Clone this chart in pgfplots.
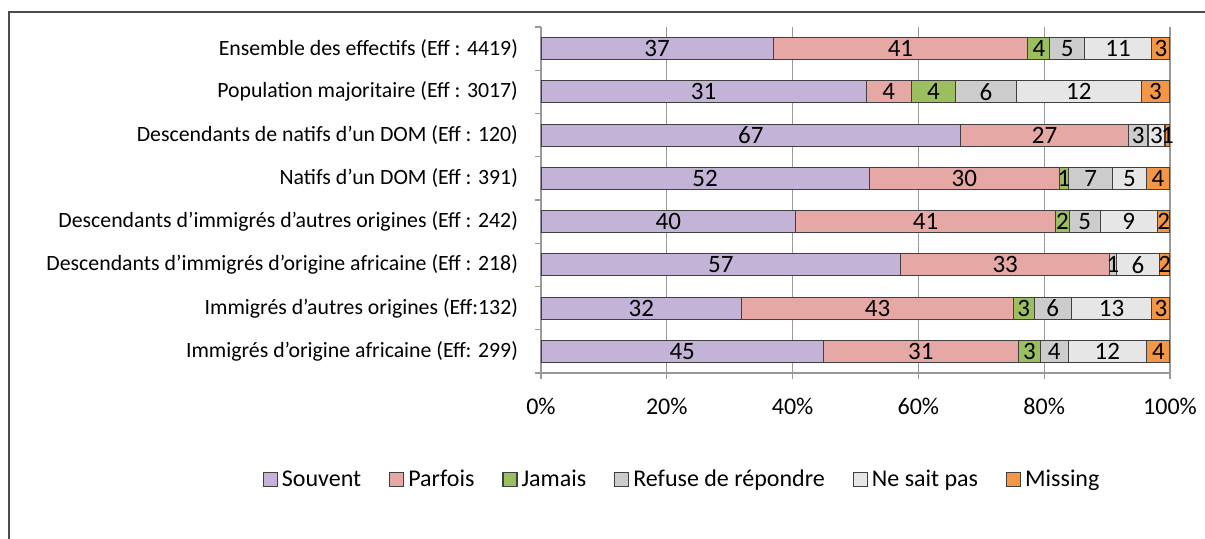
\documentclass[border=0pt]{standalone}
\usepackage{fontspec}
\setmainfont{Carlito}
\usepackage{pgfplots}
\pgfplotsset{compat=1.18}
\definecolor{souvent}{RGB}{195,180,215}
\definecolor{parfois}{RGB}{230,168,165}
\definecolor{jamais}{RGB}{155,190,95}
\definecolor{refuse}{RGB}{204,204,204}
\definecolor{nsp}{RGB}{230,230,230}
\definecolor{missing}{RGB}{243,150,70}
\begin{document}
\begin{tikzpicture}
\begin{axis}[
  at={(0pt,0pt)}, anchor=south west,
  scale only axis, width=314.5pt, height=173pt,
  xbar stacked, bar width=11pt,
  xmin=0, xmax=100, ymin=-0.5, ymax=7.5,
  xtick={0,20,...,100},
  xticklabel={\pgfmathprintnumber{\tick}\%},
  /pgf/number format/assume math mode=true,
  ytick={0,...,7},
  yticklabels={
    {Immigrés d'origine africaine (Eff: 299)},
    {Immigrés d'autres origines (Eff:132)},
    {Descendants d'immigrés d'origine africaine (Eff : 218)},
    {Descendants d'immigrés d'autres origines (Eff : 242)},
    {Natifs d'un DOM (Eff : 391)},
    {Descendants de natifs d'un DOM (Eff : 120)},
    {Population majoritaire (Eff : 3017)},
    {Ensemble des effectifs (Eff : 4419)}},
  minor ytick={-0.5,0.5,...,7.5},
  xmajorgrids, major grid style={black!40, line width=0.6pt},
  axis x line*=bottom, axis y line*=left,
  axis line style={black!40, line width=0.6pt},
  tick align=outside,
  major tick length=3pt, minor tick length=3pt,
  major x tick style={black!40, line width=0.6pt},
  major y tick style={draw=none},
  minor y tick style={black!40, line width=0.6pt},
  xticklabel style={font=\fontsize{12}{14}\selectfont, yshift=-6pt},
  yticklabel style={font=\fontsize{10.9}{13}\selectfont, xshift=-5pt},
  point meta=explicit symbolic,
  nodes near coords,
  every node near coord/.append style={font=\fontsize{12.5}{12}\selectfont, text=black, inner sep=0pt},
  legend columns=6,
  legend image code/.code={\draw[#1] (0pt,-3.5pt) rectangle (7pt,3.5pt);},
  legend style={draw=none, at={(axis description cs:0.226,-0.309)}, anchor=center,
    font=\fontsize{12}{14}\selectfont,
    /tikz/every even column/.append style={column sep=12pt},
    /tikz/every odd column/.append style={column sep=0pt}},
  every axis plot/.append style={draw=black!75, line width=0.55pt},
]
\addplot[fill=souvent] coordinates {(44.9,0)[45] (31.9,1)[32] (57.2,2)[57] (40.5,3)[40] (52.2,4)[52] (66.7,5)[67] (51.7,6)[31] (36.9,7)[37]};
\addplot[fill=parfois] coordinates {(31.0,0)[31] (43.2,1)[43] (33.2,2)[33] (41.3,3)[41] (30.2,4)[30] (26.7,5)[27] (7.2,6)[4] (40.5,7)[41]};
\addplot[fill=jamais] coordinates {(3.5,0)[3] (3.3,1)[3] (0,2)[] (2.2,3)[2] (1.5,4)[1] (0,5)[] (7.0,6)[4] (3.5,7)[4]};
\addplot[fill=refuse] coordinates {(4.4,0)[4] (5.9,1)[6] (1.1,2)[1] (4.9,3)[5] (7.0,4)[7] (3.1,5)[3] (9.7,6)[6] (5.5,7)[5]};
\addplot[fill=nsp] coordinates {(12.5,0)[12] (12.8,1)[13] (6.8,2)[6] (9.1,3)[9] (5.3,4)[5] (2.7,5)[3] (19.8,6)[12] (10.7,7)[11]};
\addplot[fill=missing] coordinates {(3.7,0)[4] (2.9,1)[3] (1.7,2)[2] (2.0,3)[2] (3.8,4)[4] (0.8,5)[1] (4.6,6)[3] (2.9,7)[3]};
\legend{Souvent, Parfois, Jamais, Refuse de répondre, Ne sait pas, Missing}
\end{axis}
\draw[black!70, line width=1pt] (-266pt,-120pt) -- (-266pt,180.75pt) -- (400pt,180.75pt);
\pgfresetboundingbox
\useasboundingbox (-270.5pt,-82.5pt) rectangle (332pt,186.5pt);
\end{tikzpicture}
\end{document}
